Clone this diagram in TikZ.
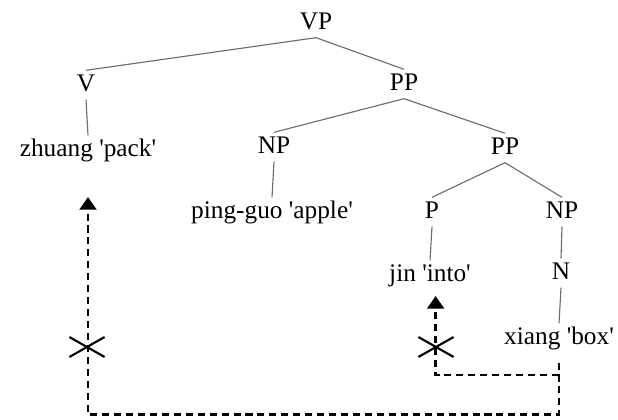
\documentclass[tikz,border=0pt]{standalone}
\usepackage{fontspec}
\setmainfont{Liberation Serif}[Ligatures=TeXOff]
\usetikzlibrary{arrows.meta}
\tikzset{
  word/.style={inner sep=2pt, text height=13pt, text depth=3.5pt, font=\fontsize{18}{21}\selectfont},
  branch/.style={gray!85!black, line width=0.8pt},
  move/.style={black, line width=1.7pt, dash pattern=on 5pt off 3.5pt, -{Triangle[length=9pt,width=12pt]}},
  block/.style={black, line width=1.5pt}
}

\begin{document}
\begin{tikzpicture}[scale=1]
\useasboundingbox (0,0) rectangle (15.45,10.475);
% Draw nodes
\node[word] (vp) at (7.9,9.9) {VP};
\node[word] (v) at (2.15,8.35) {V};
\node[word] (pp) at (10.1,8.375) {PP};
\node[word] (zhuang) at (2.2,6.725) {zhuang 'pack'};
\node[word] (np) at (6.85,6.8) {NP};
\node[word] (pp2) at (12.625,6.775) {PP};
\node[word] (pingguo) at (6.8,5.175) {ping-guo 'apple'};
\node[word] (p) at (10.8,5.175) {P};
\node[word] (np2) at (14.05,5.175) {NP};
\node[word] (jin) at (10.75,3.6) {jin 'into'};
\node[word] (n) at (14.025,3.65) {N};
\node[word] (xiang) at (13.975,2.025) {xiang 'box'};
% Draw branches
\draw[branch] (vp.south)--(v.north);
\draw[branch] (vp.south)--(pp.north);
\draw[branch] (v.south)--(zhuang.north);
\draw[branch] (pp.south)--(np.north);
\draw[branch] (pp.south)--(pp2.north);
\draw[branch] (np.south)--(pingguo.north);
\draw[branch] (pp2.south)--(p.north);
\draw[branch] (pp2.south)--(np2.north);
\draw[branch] (p.south)--(jin.north);
\draw[branch] (np2.south)--(n.north);
\draw[branch] (n.south)--(xiang.north);
% Draw movement arrows
\draw[move] ([yshift=-7pt]xiang.south)--++(0,-1.3) -| ([yshift=-23pt]zhuang.south);
\draw[move] ([yshift=-16pt]xiang.south) -| ([xshift=4pt,yshift=-4.5pt]jin.south);
% Draw crosses
\coordinate (cutv) at (2.175,1.8);
\coordinate (cutp) at (10.9,1.8);
\draw[block] ([shift={(-0.44,-0.25)}]cutv)--([shift={(0.44,0.25)}]cutv);
\draw[block] ([shift={(-0.44,0.25)}]cutv)--([shift={(0.44,-0.25)}]cutv);
\draw[block] ([shift={(-0.44,-0.25)}]cutp)--([shift={(0.44,0.25)}]cutp);
\draw[block] ([shift={(-0.44,0.25)}]cutp)--([shift={(0.44,-0.25)}]cutp);
\end{tikzpicture}
\end{document}
